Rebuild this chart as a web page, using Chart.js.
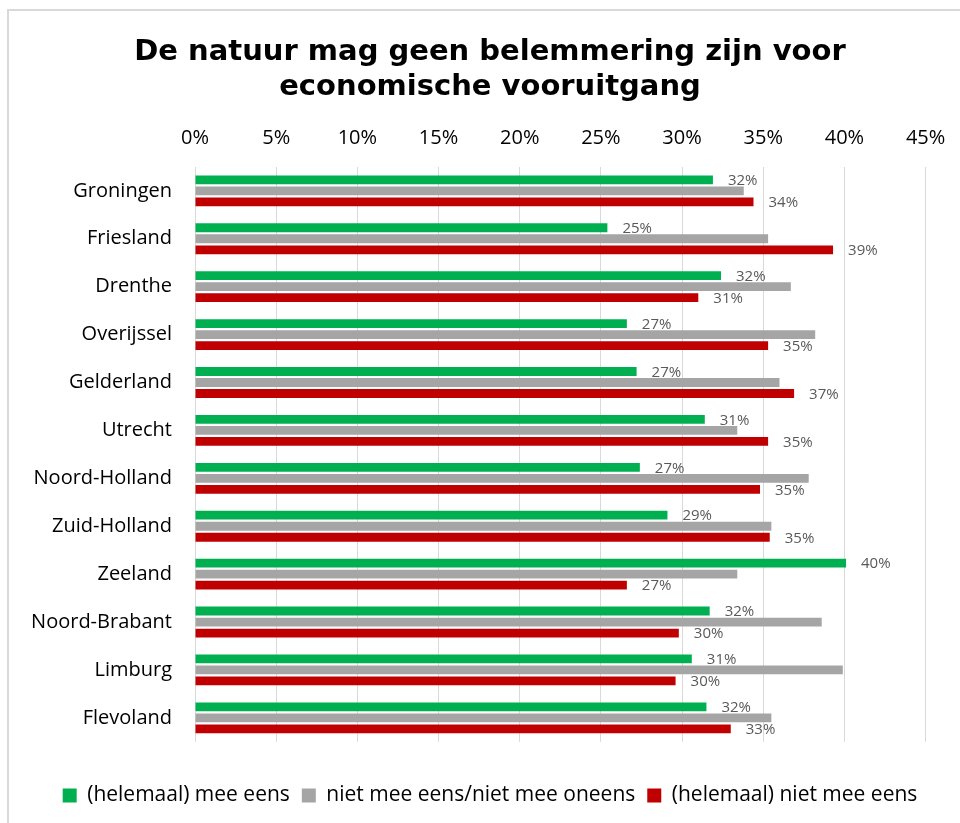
<!DOCTYPE html>
<html>
<head>
<meta charset="utf-8">
<script src="https://cdn.jsdelivr.net/npm/chart.js@4.4.0/dist/chart.umd.min.js"></script>
<style>
  html, body { margin: 0; padding: 0; background: #ffffff; overflow: hidden; width: 960px; height: 823px; }
  #frame { position: absolute; left: 7px; top: 9px; width: 1000px; height: 900px; border: 2px solid #d9d9d9; box-sizing: border-box; }
  #wrap { position: absolute; left: 0; top: 0; width: 980px; height: 823px; }
</style>
</head>
<body>
<div id="frame"></div>
<div id="wrap"><canvas id="c" width="980" height="823"></canvas></div>
<script>
const titleLines = ['De natuur mag geen belemmering zijn voor', 'economische vooruitgang'];
const categories = ['Groningen', 'Friesland', 'Drenthe', 'Overijssel', 'Gelderland', 'Utrecht',
  'Noord-Holland', 'Zuid-Holland', 'Zeeland', 'Noord-Brabant', 'Limburg', 'Flevoland'];
const seriesNames = ['(helemaal) mee eens', 'niet mee eens/niet mee oneens', '(helemaal) niet mee eens'];
const meeEens = [31.9, 25.4, 32.4, 26.6, 27.2, 31.4, 27.4, 29.1, 40.1, 31.7, 30.6, 31.5];
const neutraal = [33.8, 35.3, 36.7, 38.2, 36.0, 33.4, 37.8, 35.5, 33.4, 38.6, 39.9, 35.5];
const nietMeeEens = [34.4, 39.3, 31.0, 35.3, 36.9, 35.3, 34.8, 35.4, 26.6, 29.8, 29.6, 33.0];
const tickMin = 0, tickMax = 45, tickStep = 5;
const labelledSeries = [0, 2];

const valueLabels = {
  id: 'valueLabels',
  afterDatasetsDraw(chart) {
    const ctx = chart.ctx;
    ctx.save();
    ctx.font = '15px "Open Sans"';
    ctx.fillStyle = '#595959';
    ctx.textAlign = 'left';
    ctx.textBaseline = 'middle';
    labelledSeries.forEach(di => {
      const meta = chart.getDatasetMeta(di);
      meta.data.forEach((bar, i) => {
        const v = chart.data.datasets[di].data[i];
        ctx.fillText(Math.round(v) + '%', bar.x + 15, bar.y + 1);
      });
    });
    ctx.restore();
  }
};

new Chart(document.getElementById('c'), {
  type: 'bar',
  data: {
    labels: categories,
    datasets: [
      { label: seriesNames[0], data: meeEens, backgroundColor: '#00b050' },
      { label: seriesNames[1], data: neutraal, backgroundColor: '#a5a5a5' },
      { label: seriesNames[2], data: nietMeeEens, backgroundColor: '#c00000' }
    ]
  },
  options: {
    indexAxis: 'y',
    responsive: false,
    animation: false,
    categoryPercentage: 0.69,
    barPercentage: 0.8,
    layout: { padding: { left: 27, right: 27, top: 10, bottom: 7 } },
    scales: {
      x: {
        position: 'top',
        min: tickMin, max: tickMax,
        afterFit(scale) { scale.height = 167 - 10 - 24 - 72 - 8; },
        grid: { color: '#d9d9d9', lineWidth: 1, drawTicks: false },
        border: { display: false },
        ticks: {
          stepSize: tickStep,
          padding: 17,
          color: '#000000',
          font: { family: 'Open Sans', size: 20 },
          callback: v => v + '%'
        }
      },
      y: {
        afterFit(scale) { scale.width = 168; },
        grid: { display: false, drawTicks: false },
        border: { display: false },
        ticks: {
          padding: 23,
          color: '#000000',
          font: { family: 'Open Sans', size: 20 }
        }
      },
      yRight: {
        type: 'linear',
        position: 'right',
        display: true,
        afterFit(scale) { scale.width = 27.4; },
        grid: { display: false, drawTicks: false },
        border: { display: false },
        ticks: { display: false }
      }
    },
    plugins: {
      title: {
        display: true,
        text: titleLines,
        color: '#000000',
        font: { family: 'DejaVu Sans', weight: 'bold', size: 29, lineHeight: 1.24 },
        padding: { top: 24, bottom: 8 }
      },
      legend: {
        position: 'bottom',
        title: { display: true, text: ' ', font: { size: 1 }, padding: { top: 30, bottom: 0 } },
        labels: {
          boxWidth: 14,
          boxHeight: 14,
          padding: 12,
          color: '#000000',
          font: { family: 'Open Sans', size: 21 }
        }
      },
      tooltip: { enabled: false }
    }
  },
  plugins: [valueLabels]
});
</script>
</body>
</html>
